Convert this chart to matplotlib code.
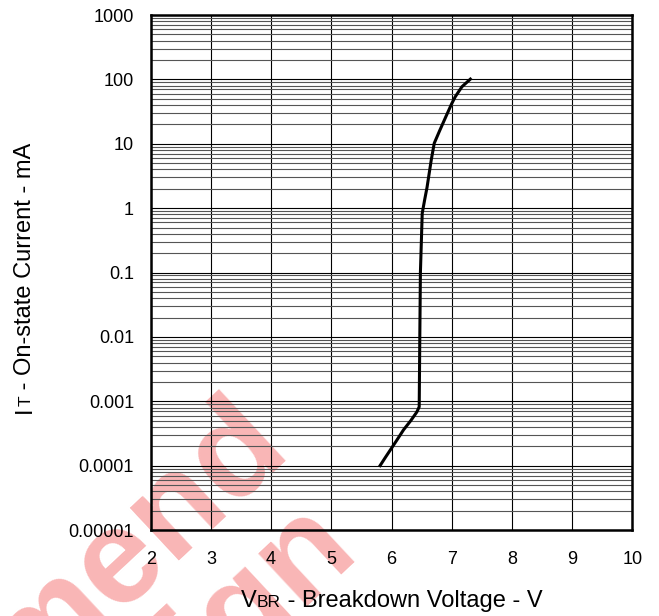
import matplotlib
matplotlib.use('Agg')
import matplotlib.pyplot as plt
from matplotlib.ticker import FixedLocator, NullFormatter
from matplotlib.transforms import IdentityTransform

plt.rcParams['font.family'] = ['Liberation Sans', 'DejaVu Sans']

# breakdown curve
vbr = [5.81, 5.90, 5.98, 6.09, 6.20, 6.32, 6.42, 6.46, 6.47, 6.48, 6.51,
       6.55, 6.59, 6.66, 6.71, 6.80, 6.90, 7.00, 7.06, 7.17, 7.31]
it_ma = [1.0e-4, 1.35e-4, 1.75e-4, 2.5e-4, 3.6e-4, 5.0e-4, 6.8e-4, 8.2e-4,
         1e-2, 1e-1, 0.83, 1.34, 2.1, 5.6, 10.2, 16, 26, 42, 54, 77, 101]

x_ticks = [2, 3, 4, 5, 6, 7, 8, 9, 10]
y_ticks = [1e-5, 1e-4, 1e-3, 1e-2, 1e-1, 1, 10, 100, 1000]
y_labels = ['0.00001', '0.0001', '0.001', '0.01', '0.1', '1', '10', '100', '1000']

fig = plt.figure(figsize=(6.59, 6.16), dpi=100)
ax = fig.add_axes([0.2287, 0.1396, 0.7308, 0.836])
ax.patch.set_alpha(0)

# watermark behind everything
wm = dict(fontsize=97, fontweight='bold', color='#f9b6b6', rotation=43,
          rotation_mode='anchor', ha='right', va='baseline', zorder=-5)
fig.text(0.445, 0.262, 'Not Recommend', **wm)
fig.text(0.548, 0.098, 'for New Design', **wm)

ax.plot(vbr, it_ma, color='black', lw=2.2, zorder=5)

ax.set_yscale('log')
ax.set_xlim(2, 10)
ax.set_ylim(1e-5, 1e3)
ax.set_xticks(x_ticks)
ax.set_xticklabels([str(v) for v in x_ticks])
ax.yaxis.set_major_locator(FixedLocator(y_ticks))
ax.set_yticklabels(y_labels)
minors = [m * 10.0 ** e for e in range(-5, 3) for m in range(2, 10)]
ax.yaxis.set_minor_locator(FixedLocator(minors))
ax.yaxis.set_minor_formatter(NullFormatter())

ax.grid(True, which='major', color='black', lw=0.8)
ax.grid(True, which='minor', axis='y', color='#555555', lw=0.8)
ax.tick_params(which='both', length=0, labelsize=13)
ax.tick_params(axis='x', pad=15)
ax.tick_params(axis='y', pad=12)
for s in ax.spines.values():
    s.set_linewidth(1.8)

# axis titles with the small letters on the same baseline
renderer = fig.canvas.get_renderer()


def put_pieces(x0, y0, pieces, vertical=False):
    # x0, y0 in pixels from bottom-left
    pos = y0 if vertical else x0
    for txt, size in pieces:
        if vertical:
            t = fig.text(x0, pos, txt, fontsize=size, rotation=90, rotation_mode='anchor',
                         ha='left', va='baseline', transform=IdentityTransform())
            pos += t.get_window_extent(renderer).height
        else:
            t = fig.text(pos, y0, txt, fontsize=size, ha='left', va='baseline',
                         transform=IdentityTransform())
            pos += t.get_window_extent(renderer).width
    return pos


xl = [('V', 17), ('BR', 12.5), (' - Breakdown Voltage - V', 17)]
w = put_pieces(0, -100, xl)
for t in fig.texts[-3:]:
    t.remove()
put_pieces(391.5 - w / 2, 616 - 607, xl)

yl = [('I', 17), ('T', 12.5), (' - On-state Current - mA', 17)]
h = put_pieces(-100, 0, yl, vertical=True)
for t in fig.texts[-3:]:
    t.remove()
put_pieces(31, (616 - 413.3 + 616 - 141.7) / 2 - h / 2, yl, vertical=True)

fig.savefig('out.png', dpi=100)
